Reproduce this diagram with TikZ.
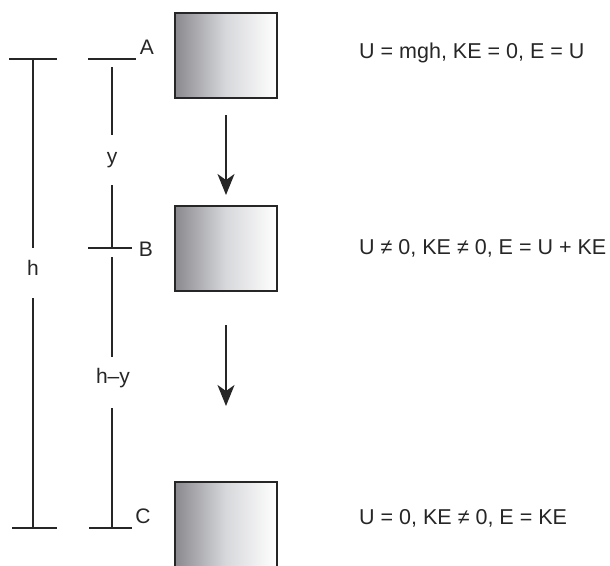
\documentclass[tikz,border=0pt]{standalone}
\usepackage{fontspec}
\setmainfont{Liberation Sans}
\usetikzlibrary{arrows.meta}
\tikzset{
  blockbox/.style={draw=black!85, line width=1.8pt, left color={rgb,255:red,138;green,138;blue,142}, right color=white, middle color={rgb,255:red,215;green,216;blue,219}, shading angle=90, minimum width=102pt, minimum height=85pt, inner sep=0pt, anchor=north west},
  bar/.style={draw=black!85, line width=1.6pt},
  lbl/.style={font=\fontsize{21}{24}\selectfont, text=black!85, inner sep=0pt},
  eqn/.style={font=\fontsize{21.5}{24}\selectfont, text=black!85, inner sep=0pt, anchor=west},
  fall/.style={draw=black!85, line width=1.6pt, -{Stealth[length=21pt,width=17pt,inset=6pt]}}
}
\begin{document}
\begin{tikzpicture}[x=1pt,y=-1pt]
\useasboundingbox (0,0) rectangle (610,565);
\clip (0,0) rectangle (610,565);
% boxes
\node[blockbox] (bA) at (174,12) {};
\node[blockbox] (bB) at (174,205) {};
\node[blockbox] (bC) at (174,481) {};
% arrows
\coordinate (a1s) at (226,115);
\coordinate (a1e) at (226,195);
\coordinate (a2s) at (226,325);
\coordinate (a2e) at (226,406);
\draw[fall] (a1s) -- (a1e);
\draw[fall] (a2s) -- (a2e);
% h bar
\coordinate (hTl) at (9,59);   \coordinate (hTr) at (57,59);
\coordinate (hBl) at (12,528); \coordinate (hBr) at (57,528);
\coordinate (hT) at (33,59);   \coordinate (hB) at (33,528);
\node[lbl] (hl) at (33,268) {h};
\coordinate (hg1) at (33,248); \coordinate (hg2) at (33,298);
\draw[bar] (hTl) -- (hTr);
\draw[bar] (hBl) -- (hBr);
\draw[bar] (hT) -- (hg1);
\draw[bar] (hg2) -- (hB);
% second bar
\coordinate (aTl) at (88,59);  \coordinate (aTr) at (136,59);
\coordinate (bTl) at (88,248); \coordinate (bTr) at (132,248);
\coordinate (cTl) at (89,528); \coordinate (cTr) at (132,528);
\node[lbl] (yl) at (112,160) {y};
\node[lbl] (hyl) at (113,378) {h–y};
\draw[bar] (aTl) -- (aTr);
\draw[bar] (bTl) -- (bTr);
\draw[bar] (cTl) -- (cTr);
\coordinate (s1) at (112,67);  \coordinate (s2) at (112,135);
\coordinate (s3) at (112,185); \coordinate (s4) at (112,248);
\coordinate (s5) at (112,257); \coordinate (s6) at (112,357);
\coordinate (s7) at (112,408); \coordinate (s8) at (112,528);
\draw[bar] (s1) -- (s2);
\draw[bar] (s3) -- (s4);
\draw[bar] (s5) -- (s6);
\draw[bar] (s7) -- (s8);
% point labels
\node[lbl] (A) at (147,47) {A};
\node[lbl] (B) at (146,249) {B};
\node[lbl] (C) at (143,516) {C};
% equations
\node[eqn] (eA) at (359,53) {U = mgh, KE = 0, E = U};
\node[eqn] (eB) at (359,248) {U ≠ 0, KE ≠ 0, E = U + KE};
\node[eqn] (eC) at (359,518) {U = 0, KE ≠ 0, E = KE};
\end{tikzpicture}
\end{document}
